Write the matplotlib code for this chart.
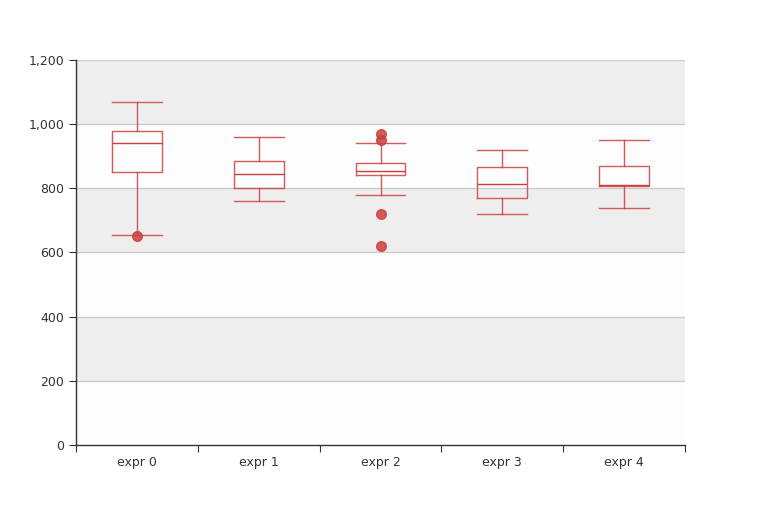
import matplotlib
matplotlib.use("Agg")
import matplotlib.pyplot as plt
from matplotlib.ticker import FuncFormatter

# data
labels = ["expr 0", "expr 1", "expr 2", "expr 3", "expr 4"]
whislo = [655, 760, 780, 720, 740]
q1 = [850, 800, 840, 770, 808]
med = [940, 845, 855, 815, 810]
q3 = [980, 885, 880, 865, 870]
whishi = [1070, 960, 940, 920, 950]
fliers = [[650], [], [970, 950, 720, 620], [], []]

y_ticks = [0, 200, 400, 600, 800, 1000, 1200]

red = "#cc3f3f"

stats = []
for i in range(len(labels)):
    stats.append({
        "label": labels[i],
        "whislo": whislo[i], "q1": q1[i], "med": med[i],
        "q3": q3[i], "whishi": whishi[i], "fliers": fliers[i],
    })

fig = plt.figure(figsize=(7.61, 5.24), dpi=100)
ax = fig.add_axes([0.0999, 0.1508, 0.8002, 0.7347])

# alternating bands
for k in range(len(y_ticks) - 1):
    col = "#eeeeee" if k % 2 == 1 else "#fdfdfd"
    ax.axhspan(y_ticks[k], y_ticks[k + 1], color=col, lw=0, zorder=0)
for t in y_ticks[1:]:
    ax.axhline(t, color="#cccccc", lw=1, zorder=1)

positions = [i + 0.5 for i in range(len(labels))]
line_kw = dict(color=red, lw=1, alpha=0.85)
ax.bxp(stats, positions=positions, widths=0.41, capwidths=0.41,
       showfliers=True,
       boxprops=line_kw, whiskerprops=line_kw, capprops=line_kw,
       medianprops=dict(color=red, lw=1),
       flierprops=dict(marker="o", markersize=7, markerfacecolor=red,
                       markeredgecolor=red, alpha=0.85),
       patch_artist=False, zorder=3)

ax.set_xlim(0, len(labels))
ax.set_ylim(0, 1200)
ax.set_xticks(range(len(labels) + 1))
ax.set_xticklabels([])
ax.set_xticks(positions, minor=True)
ax.set_xticklabels(labels, minor=True)
ax.tick_params(axis="x", which="minor", length=0, pad=8)
ax.tick_params(axis="x", which="major", length=5, color="#333333")
ax.set_yticks(y_ticks)
ax.yaxis.set_major_formatter(FuncFormatter(lambda v, p: f"{int(v):,}"))
ax.tick_params(axis="y", length=5, color="#333333")
ax.tick_params(which="both", labelsize=9, labelcolor="#333333")

for s in ["top", "right"]:
    ax.spines[s].set_visible(False)
for s in ["left", "bottom"]:
    ax.spines[s].set_color("#333333")
    ax.spines[s].set_linewidth(1)

fig.savefig("out.png", dpi=100)
